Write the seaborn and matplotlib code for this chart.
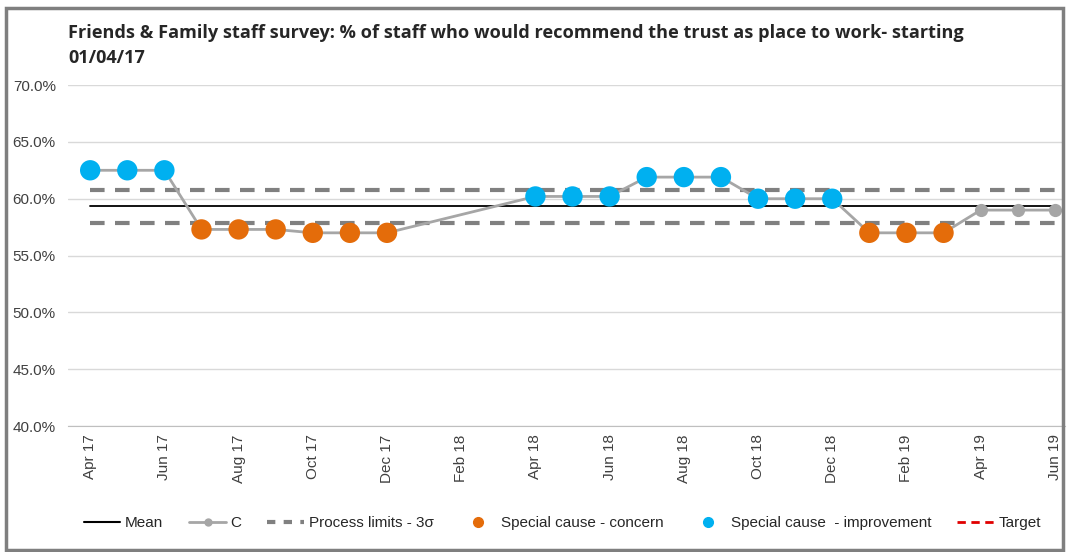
import numpy as np
import pandas as pd
import matplotlib
matplotlib.use("Agg")
import matplotlib.pyplot as plt
from matplotlib.lines import Line2D
from matplotlib.patches import Rectangle
import seaborn as sns

months = ["Apr 17", "May 17", "Jun 17", "Jul 17", "Aug 17", "Sep 17", "Oct 17", "Nov 17", "Dec 17",
          "Jan 18", "Feb 18", "Mar 18", "Apr 18", "May 18", "Jun 18", "Jul 18", "Aug 18", "Sep 18",
          "Oct 18", "Nov 18", "Dec 18", "Jan 19", "Feb 19", "Mar 19", "Apr 19", "May 19", "Jun 19"]
c_values = [62.5, 62.5, 62.5, 57.3, 57.3, 57.3, 57.0, 57.0, 57.0,
            np.nan, np.nan, np.nan, 60.2, 60.2, 60.2, 61.9, 61.9, 61.9,
            60.0, 60.0, 60.0, 57.0, 57.0, 57.0, 59.0, 59.0, 59.0]
status = ["imp", "imp", "imp", "con", "con", "con", "con", "con", "con",
          "", "", "", "imp", "imp", "imp", "imp", "imp", "imp",
          "imp", "imp", "imp", "con", "con", "con", "", "", ""]
mean_value = 59.4
ucl_value = 60.8
lcl_value = 57.9
yticks = [40, 45, 50, 55, 60, 65, 70]

df = pd.DataFrame({"x": np.arange(len(months)), "month": months, "C": c_values, "status": status})
dfc = df.dropna(subset=["C"])

GREY = "#A6A6A6"
LIM = "#808080"
BLUE = "#00B0F0"
ORANGE = "#E46C0A"

sns.set_style("white")
plt.rcParams["font.family"] = ["Liberation Sans", "DejaVu Sans"]

fig = plt.figure(figsize=(10.67, 5.52), dpi=100)
ax = fig.add_axes([0.064, 0.228, 0.934, 0.618])

ax.set_ylim(40, 70)
ax.set_xlim(-0.59, 26.27)
for yv in yticks:
    ax.axhline(yv, color="#D9D9D9", lw=1, zorder=0)

x0, x1 = df["x"].min(), df["x"].max()
ax.plot([x0, x1], [mean_value] * 2, color="black", lw=1.3, zorder=2)
ax.plot([x0, x1], [ucl_value] * 2, color=LIM, lw=3, ls=(0, (3.5, 2.5)), zorder=2)
ax.plot([x0, x1], [lcl_value] * 2, color=LIM, lw=3, ls=(0, (3.5, 2.5)), zorder=2)

sns.lineplot(data=dfc, x="x", y="C", ax=ax, color=GREY, lw=2, marker="o",
             markersize=9.5, markeredgewidth=0, zorder=3, legend=False)
sns.scatterplot(data=dfc[dfc["status"] == "con"], x="x", y="C", ax=ax, color=ORANGE,
                s=215, edgecolor="none", zorder=4, legend=False)
sns.scatterplot(data=dfc[dfc["status"] == "imp"], x="x", y="C", ax=ax, color=BLUE,
                s=215, edgecolor="none", zorder=4, legend=False)

ax.set_yticks(yticks)
ax.set_yticklabels([f"{v:.1f}%" for v in yticks], fontsize=11, color="#404040")
ax.set_xticks(df["x"][::2])
ax.set_xticklabels(df["month"][::2], rotation=90, fontsize=11, color="#404040")
ax.tick_params(axis="y", pad=9, length=0)
ax.tick_params(axis="x", pad=6, length=0)
ax.set_xlabel("")
ax.set_ylabel("")
for s in ["top", "right", "left"]:
    ax.spines[s].set_visible(False)
ax.spines["bottom"].set_color("#BFBFBF")

fig.text(0.064, 0.957, "Friends & Family staff survey: % of staff who would recommend the trust as place to work- starting\n01/04/17",
         ha="left", va="top", fontsize=13.1, fontweight="bold", family="Open Sans", color="#262626",
         linespacing=1.55)

handles = [
    Line2D([], [], color="black", lw=1.5),
    Line2D([], [], color=GREY, lw=2, marker="o", markersize=6, markeredgewidth=0),
    Line2D([], [], color=LIM, lw=3, ls=(0, (2, 2))),
    Line2D([], [], color=ORANGE, lw=0, marker="o", markersize=7),
    Line2D([], [], color=BLUE, lw=0, marker="o", markersize=7),
    Line2D([], [], color="#E00000", lw=2, ls=(0, (3, 2))),
]
labels = ["Mean", "C", "Process limits - 3σ", "Special cause - concern",
          "Special cause  - improvement", "Target"]
fig.legend(handles, labels, loc="center", bbox_to_anchor=(0.527, 0.052), ncol=6,
           frameon=False, fontsize=11, handlelength=2.4, columnspacing=1.7, handletextpad=0.3)

fig.patches.append(Rectangle((0.006, 0.004), 0.99, 0.982, transform=fig.transFigure,
                             fill=False, edgecolor="#7F7F7F", lw=2.5))

fig.savefig("out.png", dpi=100)
